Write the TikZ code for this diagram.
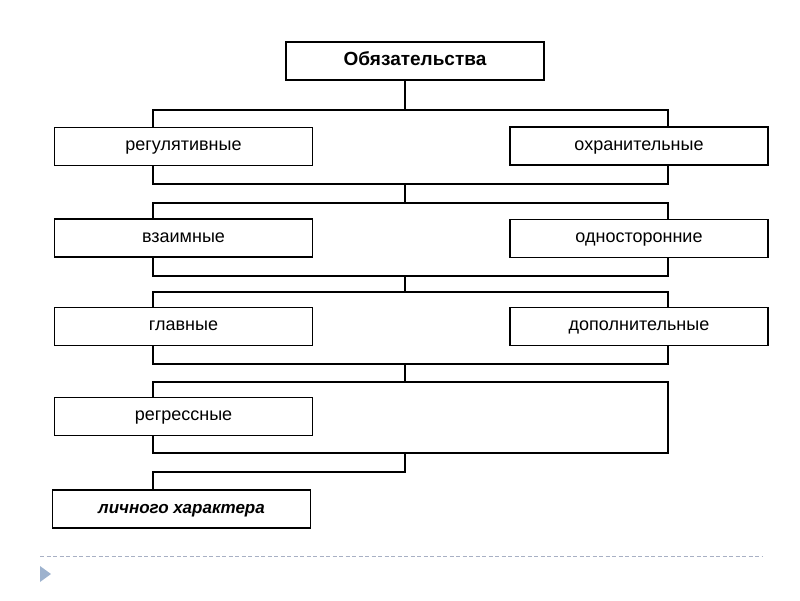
\documentclass[tikz,border=0pt]{standalone}
\usepackage{fontspec}
\setmainfont{Liberation Sans}
\definecolor{dashcol}{HTML}{A8B0C4}
\definecolor{bullet}{HTML}{9DB2CE}
\begin{document}
\begin{tikzpicture}[x=1pt,y=-1pt,
  box/.style={draw=black,line width=1.7pt,fill=white,minimum width=258pt,minimum height=38pt,inner sep=0pt,text height=1.6ex,text depth=0ex,font=\fontsize{18}{20}\selectfont},
  grp/.style={draw=black,line width=1.6pt,minimum width=515pt,inner sep=0pt},
  conn/.style={draw=black,line width=1.8pt}]
\useasboundingbox (0,0) rectangle (800,600);
% group brackets
\node[grp,minimum height=74pt] (g1) at (410.5,147) {};
\node[grp,minimum height=73pt] (g2) at (410.5,239.5) {};
\node[grp,minimum height=72pt] (g3) at (410.5,328) {};
\node[grp,minimum height=71pt] (g4) at (410.5,417.5) {};
% top
\node[box,font=\fontsize{19}{21}\selectfont\bfseries] (top) at (415,61) {Обязательства};
\coordinate (c0) at (405,80);
\coordinate (c1) at (405,110.5);
\draw[conn] (c0) -- (c1);
% connectors between groups
\draw[conn] (g1.south -| c0) -- (g2.north -| c0);
\draw[conn] (g2.south -| c0) -- (g3.north -| c0);
\draw[conn] (g3.south -| c0) -- (g4.north -| c0);
% boxes
\node[box] (reg) at (183.5,146.5) {регулятивные};
\node[box] (okh) at (639,146) {охранительные};
\node[box] (vza) at (183.5,238) {взаимные};
\node[box] (odn) at (639,238.5) {односторонние};
\node[box] (gla) at (183.5,326.5) {главные};
\node[box] (dop) at (639,326.5) {дополнительные};
\node[box] (rgr) at (183.5,416.5) {регрессные};
\node[box,font=\fontsize{17}{20}\selectfont\bfseries\itshape] (lich) at (181.5,509) {личного характера};
% last open bracket
\coordinate (b5) at (153,472);
\draw[conn] (g4.south -| c0) |- (b5) -- (b5 |- lich.north);
% footer
\draw[dashcol,line width=1pt,dash pattern=on 4pt off 2.5pt] (40,556) -- (763,556);
\fill[bullet] (40,566) -- (51,574) -- (40,582) -- cycle;
\end{tikzpicture}
\end{document}
